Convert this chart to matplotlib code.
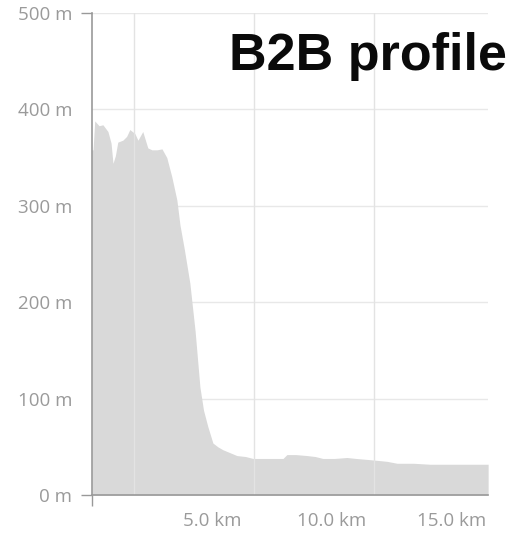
import matplotlib
matplotlib.use("Agg")
import matplotlib.pyplot as plt
from matplotlib.ticker import FuncFormatter

# elevation profile
dist_km = [0.0, 0.05, 0.12, 0.30, 0.46, 0.67, 0.80, 0.88, 0.98, 1.08, 1.29, 1.45,
           1.58, 1.79, 1.92, 2.12, 2.33, 2.50, 2.71, 2.92, 3.12, 3.33, 3.54, 3.67,
           3.85, 4.08, 4.30, 4.50, 4.65, 4.83, 5.04, 5.25, 5.46, 5.75, 6.04, 6.40,
           6.71, 7.30, 7.96, 8.12, 8.50, 8.96, 9.30, 9.62, 10.10, 10.62, 11.00,
           11.46, 11.90, 12.29, 12.71, 13.40, 14.08, 15.20, 16.50]
elev_m = [358, 358, 388, 383, 384, 377, 365, 344, 352, 366, 368, 372,
          379, 375, 368, 377, 360, 358, 358, 359, 350, 330, 306, 280,
          255, 220, 170, 112, 88, 71, 54, 50, 47, 44, 41, 40,
          38, 38, 38, 42, 42, 41, 40, 38, 38, 39, 38,
          37, 36, 35, 33, 33, 32, 32, 32]

x_ticks = [5.0, 10.0, 15.0]
x_grid = [1.75, 6.75, 11.75]
y_ticks = [0, 100, 200, 300, 400, 500]

fig = plt.figure(figsize=(5.16, 5.37), dpi=100)
ax = fig.add_axes([0.178, 0.078, 0.768, 0.898])

ax.fill_between(dist_km, elev_m, 0, color="#d9d9d9", lw=0, zorder=2)

ax.set_xlim(0, 16.5)
ax.set_ylim(0, 500)

ax.yaxis.remove_overlapping_locs = False
ax.set_yticks(y_ticks)
ax.yaxis.set_major_formatter(FuncFormatter(lambda v, p: f"{v:.0f} m"))
ax.set_yticks([0, 500], minor=True)
ax.set_xticks(x_ticks)
ax.xaxis.set_major_formatter(FuncFormatter(lambda v, p: f"{v:.1f} km"))
ax.set_xticks([0], minor=True)

ax.tick_params(axis="both", which="major", length=0, labelsize=13.5,
               labelcolor="#9a9a9a", labelfontfamily="Open Sans")
ax.tick_params(axis="y", which="major", pad=14)
ax.tick_params(axis="x", which="major", pad=12)
ax.tick_params(axis="both", which="minor", length=8, width=1, color="#999999")

ax.grid(True, axis="y", which="major", color="#e8e8e8", lw=1, zorder=0)
for g in x_grid:
    ax.axvline(g, color="#e3e3e3", lw=1, zorder=3)

for s in ["top", "right"]:
    ax.spines[s].set_visible(False)
for s in ["left", "bottom"]:
    ax.spines[s].set_color("#999999")
    ax.spines[s].set_linewidth(1.2)
    ax.spines[s].set_zorder(4)

fig.text(229 / 516, 1 - 70 / 537, "B2B profile", fontsize=37.5, fontweight="bold",
         family="Liberation Sans", color="#0a0a0a", ha="left", va="baseline")

fig.savefig("out.png", dpi=100)
